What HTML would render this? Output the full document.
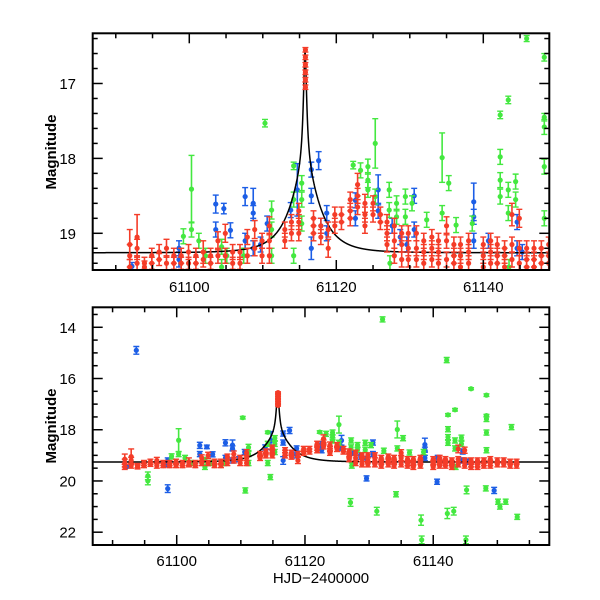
<!DOCTYPE html>
<html><head><meta charset="utf-8"><style>
html,body{margin:0;padding:0;background:#fff}
svg{display:block}
text{font-family:"Liberation Sans",sans-serif;fill:#000}
</style></head><body>
<svg id="chart" width="600" height="600" viewBox="0 0 600 600" xmlns="http://www.w3.org/2000/svg">
<defs>
<clipPath id="clipTop"><rect x="92.7" y="33.3" width="456.6" height="236.7"/></clipPath>
<clipPath id="clipBot"><rect x="92.7" y="307.3" width="456.6" height="237.7"/></clipPath>
</defs>
<g id="top"></g>
<g id="bot"></g>
</svg>
<script>
// ---- data (HJD-2400000, magnitude, error) ----
const redT=[61091.9,61091.9,61091.9,61092.9,61092.9,61092.9,61093.9,61093.9,61094.9,61094.9,61095.9,61095.9,61096.9,61096.9,61097.9,61097.9,61098.9,61098.9,61099.9,61099.9,61100.9,61100.9,61101.9,61101.9,61102.9,61102.9,61103.9,61103.9,61104.9,61104.9,61105.9,61105.9,61106.9,61106.9,61107.9,61107.9,61108.9,61108.9,61109.9,61109.9,61110.9,61110.9,61110.9,61113.0,61113.0,61113.9,61113.9,61114.9,61114.9,61114.9,61115.8,61115.8,61115.8,61115.8,61115.8,61115.8,61116.9,61116.9,61116.9,61117.9,61117.9,61118.9,61118.9,61119.8,61119.8,61120.7,61120.7,61121.9,61121.9,61121.9,61122.9,61122.9,61122.9,61123.9,61123.9,61123.9,61125.0,61125.0,61126.0,61126.0,61126.9,61126.9,61126.9,61127.9,61127.9,61127.9,61128.9,61128.9,61128.9,61129.8,61129.8,61129.8,61130.9,61130.9,61130.9,61131.9,61131.9,61131.9,61133.0,61133.0,61133.0,61133.9,61133.9,61133.9,61135.0,61135.0,61135.0,61136.0,61136.0,61136.0,61136.9,61136.9,61136.9,61138.0,61138.0,61138.0,61140.0,61140.0,61140.0,61141.0,61141.0,61141.0,61141.9,61141.9,61141.9,61142.9,61142.9,61142.9,61143.9,61143.9,61143.9,61144.9,61144.9,61144.9,61145.9,61145.9,61145.9,61146.9,61146.9,61146.9,61147.9,61147.9,61147.9,61148.9,61148.9,61148.9,61150.0,61150.0,61151.0,61151.0,61152.0,61152.0,61153.0,61153.0];
const redM=[19.3,19.45,19.15,19.2,19.4,19.05,19.4,19.45,19.3,19.4,19.25,19.35,19.2,19.4,19.3,19.4,19.3,19.4,19.25,19.4,19.3,19.4,19.25,19.35,19.3,19.4,19.1,19.3,19.0,19.3,19.25,19.4,19.25,19.4,19.05,19.3,18.95,19.2,19.1,19.3,18.9,19.1,19.3,18.95,19.1,18.85,19.0,18.7,18.85,19.0,16.55,16.65,16.75,16.85,16.95,17.05,18.8,18.9,19.0,18.9,19.05,19.2,18.95,18.75,18.9,18.75,18.85,18.55,18.7,18.8,18.35,18.5,18.65,18.6,18.75,18.9,18.6,18.75,18.75,18.85,18.85,19.0,19.15,18.9,19.1,19.3,19.0,19.15,19.35,19.0,19.2,19.35,19.0,19.2,19.35,19.1,19.25,19.4,19.05,19.2,19.35,19.1,19.25,19.4,18.9,19.1,19.35,19.15,19.3,19.4,19.15,19.3,19.45,19.1,19.25,19.4,19.15,19.3,19.45,19.1,19.25,19.4,19.15,19.3,19.4,19.2,19.3,19.45,18.75,19.15,19.35,18.8,19.2,19.4,19.2,19.35,19.45,19.2,19.35,19.45,19.2,19.3,19.4,19.15,19.3,19.4,19.2,19.35,19.2,19.35,19.25,19.4,19.25,19.4];
const redE=[0.15,0.1,0.2,0.12,0.1,0.3,0.08,0.08,0.1,0.08,0.1,0.08,0.12,0.1,0.1,0.08,0.1,0.08,0.1,0.08,0.1,0.08,0.15,0.1,0.1,0.08,0.12,0.1,0.12,0.1,0.1,0.08,0.1,0.08,0.1,0.1,0.12,0.1,0.1,0.1,0.12,0.1,0.1,0.1,0.1,0.1,0.1,0.1,0.1,0.1,0.03,0.03,0.03,0.03,0.03,0.03,0.1,0.1,0.1,0.1,0.1,0.12,0.1,0.1,0.1,0.1,0.1,0.1,0.1,0.1,0.15,0.1,0.1,0.12,0.1,0.1,0.1,0.1,0.1,0.1,0.1,0.1,0.1,0.1,0.1,0.1,0.1,0.1,0.1,0.1,0.1,0.1,0.1,0.1,0.1,0.1,0.1,0.1,0.1,0.1,0.1,0.1,0.1,0.1,0.12,0.1,0.1,0.1,0.1,0.1,0.1,0.1,0.1,0.1,0.1,0.1,0.1,0.1,0.1,0.1,0.1,0.1,0.1,0.1,0.1,0.1,0.1,0.1,0.15,0.1,0.1,0.12,0.1,0.1,0.1,0.1,0.1,0.1,0.1,0.1,0.1,0.1,0.1,0.1,0.1,0.1,0.1,0.1,0.1,0.1,0.1,0.1,0.1,0.1];
const blueT=[61092.2,61093.7,61098.6,61098.6,61098.6,61103.6,61104.7,61103.6,61105.6,61107.6,61108.7,61108.7,61107.6,61108.7,61109.7,61110.6,61113.8,61114.7,61116.6,61116.6,61117.6,61116.6,61117.9,61118.7,61118.7,61122.6,61122.6,61125.7,61125.7,61127.6,61128.7,61129.6,61129.6,61130.6,61130.6,61138.7,61138.7,61138.7,61140.7,61140.6,61144.6,61144.6,61145.3,61149.5];
const blueM=[19.44,14.9,19.2,19.35,20.3,18.61,18.67,18.95,18.96,18.51,18.6,18.73,19.1,19.2,19.15,18.87,18.69,18.42,18.15,18.5,18.03,19.2,18.9,18.73,19.0,18.56,18.8,18.42,18.7,18.9,19.05,19.15,19.9,18.5,18.95,18.58,18.78,19.1,19.1,20.03,18.85,19.2,19.25,20.37];
const blueE=[0.05,0.15,0.1,0.1,0.15,0.12,0.07,0.1,0.1,0.12,0.2,0.1,0.1,0.1,0.1,0.1,0.1,0.35,0.1,0.1,0.12,0.15,0.1,0.1,0.1,0.1,0.1,0.2,0.1,0.1,0.1,0.1,0.1,0.1,0.1,0.25,0.1,0.1,0.1,0.1,0.1,0.1,0.1,0.12];
const greenT=[61099.2,61100.3,61100.3,61101.3,61102.2,61104.4,61104.4,61105.1,61107.4,61110.3,61111.2,61111.2,61111.2,61114.2,61114.2,61114.2,61115.3,61115.3,61115.3,61122.3,61123.3,61124.3,61124.3,61124.3,61125.3,61125.3,61127.2,61127.2,61127.3,61128.2,61128.2,61129.4,61129.4,61130.3,61132.3,61134.4,61134.4,61135.3,61136.3,61138.5,61142.3,61142.3,61142.3,61142.3,61143.4,61143.4,61144.4,61144.4,61143.4,61148.3,61148.3,61148.3,61148.3,61145.9,61148.3,61143.5,61095.5,61095.5,61110.7,61114.6];
const greenM=[19.04,18.41,18.95,19.1,19.3,19.18,19.45,19.3,19.3,17.53,18.69,18.95,19.3,18.1,18.55,19.3,18.33,18.55,18.87,18.09,18.16,18.11,18.29,18.42,17.8,18.51,18.42,18.69,19.4,18.6,18.78,18.51,18.78,18.6,18.82,17.99,18.73,18.33,18.89,18.87,17.42,17.98,18.29,18.51,18.42,17.22,18.31,18.55,18.73,17.45,17.58,18.11,18.8,16.4,16.65,19.45,19.8,20.0,20.37,19.85];
const greenE=[0.1,0.45,0.1,0.1,0.1,0.1,0.1,0.1,0.1,0.05,0.12,0.1,0.1,0.05,0.1,0.1,0.1,0.1,0.1,0.05,0.1,0.1,0.1,0.1,0.33,0.1,0.1,0.1,0.1,0.1,0.1,0.1,0.1,0.1,0.1,0.33,0.1,0.1,0.1,0.1,0.05,0.1,0.1,0.1,0.1,0.05,0.1,0.1,0.1,0.05,0.1,0.1,0.1,0.04,0.05,0.1,0.15,0.15,0.1,0.1];
// bottom-panel-only outliers (outside the top panel's magnitude range)
const greenBotT=[61132.1,61142.1,61127.1,61131.2,61134.2,61138.1,61138.2,61142.2,61143.2,61145.1,61150.1,61150.4,61151.3,61153.1,61145.2,61148.2,61152.2];
const greenBotM=[13.69,15.28,20.84,21.18,20.52,21.53,22.3,21.27,21.18,22.3,20.81,21.0,20.81,21.4,20.35,20.29,17.9];
const greenBotE=[0.1,0.1,0.15,0.15,0.1,0.2,0.15,0.2,0.15,0.15,0.1,0.1,0.1,0.1,0.15,0.1,0.1];
// model parameters: broad point-lens + narrow caustic spike
const modelParams={t0:61115.75,u0:0.4,tE:3.6,base:19.26,spike:9.1,spikeW:0.2};
const topXTicks=[61100,61120,61140];
const topYTicks=[17,18,19];
const botXTicks=[61100,61120,61140];
const botYTicks=[14,16,18,20,22];

const NS="http://www.w3.org/2000/svg";
function mk(tag,attrs,parent){const e=document.createElementNS(NS,tag);for(const k in attrs)e.setAttribute(k,attrs[k]);parent.appendChild(e);return e;}

const panels=[
 {g:document.getElementById('top'),clip:'url(#clipTop)',x0:92.7,x1:549.3,y0:33.3,y1:270,tmin:61086.86,tmax:61148.98,mmin:16.33,mmax:19.49,
  xt:topXTicks,yt:topYTicks,xminor:5,yminor:0.2,xlabY:292,ylabX:76,titleY:152,name:'top'},
 {g:document.getElementById('bot'),clip:'url(#clipBot)',x0:92.7,x1:549.3,y0:307.3,y1:545,tmin:61086.9,tmax:61158.1,mmin:13.22,mmax:22.5,
  xt:botXTicks,yt:botYTicks,xminor:5,yminor:0.5,xlabY:566,ylabX:76,titleY:426,name:'bottom'}
];
const COL={red:'#f43c28',blue:'#1c5ee6',green:'#44e840'};

function modelMag(t){const p=modelParams;const tau=(t-p.t0)/p.tE;const u=Math.sqrt(p.u0*p.u0+tau*tau);
 let A=(u*u+2)/(u*Math.sqrt(u*u+4));const s=(t-p.t0)/p.spikeW;A+=p.spike/(1+s*s);
 return p.base-2.5*Math.log10(A/((p.u0*p.u0+2)/(p.u0*Math.sqrt(p.u0*p.u0+4)))*0+A);}

panels.forEach(P=>{
 const X=t=>P.x0+(t-P.tmin)/(P.tmax-P.tmin)*(P.x1-P.x0);
 const Y=m=>P.y0+(m-P.mmin)/(P.mmax-P.mmin)*(P.y1-P.y0);
 const data=mk('g',{'clip-path':P.clip},P.g);
 
 
 function series(T,M,E,color,nm){
  const sg=mk('g',{},data);
  
  
  for(let i=0;i<T.length;i++){
   const x=X(T[i]),y=Y(M[i]),ya=Y(M[i]-E[i]),yb=Y(M[i]+E[i]);
   const pt=mk('g',{},sg);
   
   
   mk('line',{x1:x,x2:x,y1:ya,y2:yb,stroke:color,'stroke-width':1.6},pt);
   mk('line',{x1:x-3,x2:x+3,y1:ya,y2:ya,stroke:color,'stroke-width':1.4},pt);
   mk('line',{x1:x-3,x2:x+3,y1:yb,y2:yb,stroke:color,'stroke-width':1.4},pt);
   mk('circle',{cx:x,cy:y,r:2.6,fill:color},pt);
  }
 }
 series(blueT,blueM,blueE,COL.blue,'blue-series');
 series(greenT,greenM,greenE,COL.green,'green-series');
 if(P.name==='bottom')series(greenBotT,greenBotM,greenBotE,COL.green,'green-outliers');
 let d='';
 for(let t=P.tmin;t<=P.tmax;t+=0.01){d+=(d?'L':'M')+X(t).toFixed(2)+','+Y(modelMag(t)).toFixed(2);}
 const ml=mk('path',{d:d,fill:'none',stroke:'#000','stroke-width':1.5},data);
 
 
 series(redT,redM,redE,COL.red,'red-series');
 const fr=mk('rect',{x:P.x0,y:P.y0,width:P.x1-P.x0,height:P.y1-P.y0,fill:'none',stroke:'#000','stroke-width':2},P.g);
 
 
 const ax=mk('g',{stroke:'#000','stroke-width':1.5},P.g);
 
 
 for(let t=Math.ceil(P.tmin/P.xminor)*P.xminor;t<=P.tmax;t+=P.xminor){
  const major=(Math.round(t)%20===0);const L=major?10:5;const x=X(t);
  mk('line',{x1:x,x2:x,y1:P.y1,y2:P.y1-L},ax);mk('line',{x1:x,x2:x,y1:P.y0,y2:P.y0+L},ax);
 }
 for(let k=Math.ceil(P.mmin/P.yminor);k*P.yminor<=P.mmax;k++){
  const m=k*P.yminor;const major=P.yt.some(v=>Math.abs(v-m)<1e-6);const L=major?10:5;const y=Y(m);
  mk('line',{x1:P.x0,x2:P.x0+L,y1:y,y2:y},ax);mk('line',{x1:P.x1,x2:P.x1-L,y1:y,y2:y},ax);
 }
 P.xt.forEach(v=>{const tx=mk('text',{x:X(v),y:P.xlabY,'text-anchor':'middle','font-size':15},P.g);tx.textContent=v;
  
  });
 P.yt.forEach(v=>{const tx=mk('text',{x:P.ylabX,y:Y(v)+5.5,'text-anchor':'end','font-size':15},P.g);tx.textContent=v;
  
  });
 const yt=mk('text',{x:0,y:0,'text-anchor':'middle','font-size':15,'font-weight':'bold',transform:'translate(56,'+P.titleY+') rotate(-90)'},P.g);
 yt.textContent='Magnitude';
 
 
});
const xt=mk('text',{x:321,y:583,'text-anchor':'middle','font-size':15},document.getElementById('bot'));
xt.textContent='HJD\u22122400000';


</script>
</body></html>
